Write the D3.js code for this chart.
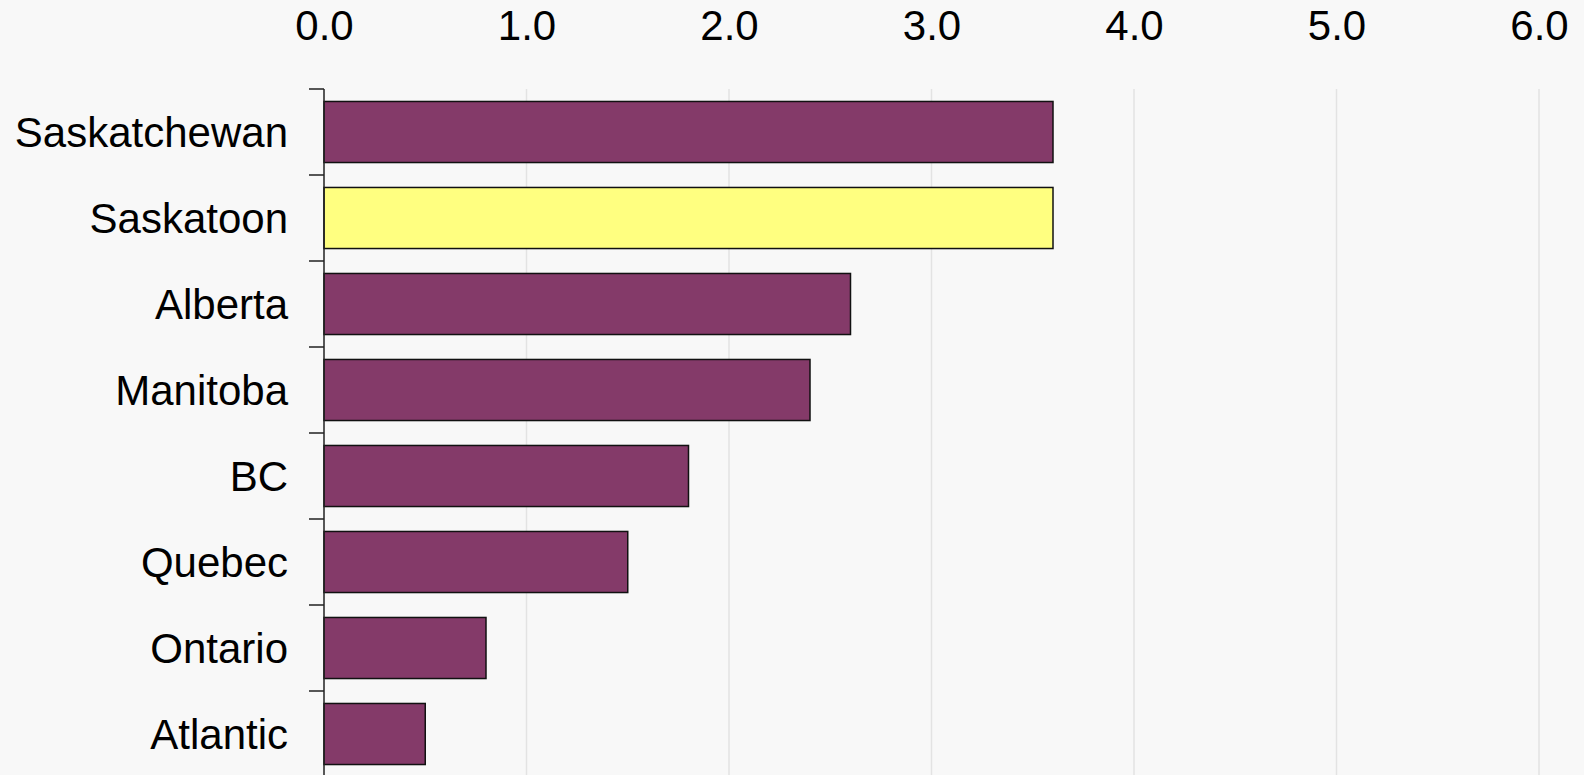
<!DOCTYPE html>
<html>
<head>
<meta charset="utf-8">
<script src="https://cdn.jsdelivr.net/npm/d3@7"></script>
<style>
  html, body { margin: 0; padding: 0; background: #f8f8f8; }
  svg { display: block; font-family: "Liberation Sans", Arial, sans-serif; }
</style>
</head>
<body>
<div id="chart"></div>
<script>
// chart values
var regions = ["Saskatchewan", "Saskatoon", "Alberta", "Manitoba", "BC", "Quebec", "Ontario", "Atlantic"];
var values = [3.6, 3.6, 2.6, 2.4, 1.8, 1.5, 0.8, 0.5];
var highlight = ["Saskatoon"];
var xTicks = [0, 1, 2, 3, 4, 5, 6];

var width = 1584, height = 775;
var margin = {top: 89, left: 324, right: 45};

var svg = d3.select("#chart").append("svg")
    .attr("width", width)
    .attr("height", height);

svg.append("rect")
    .attr("width", width)
    .attr("height", height)
    .attr("fill", "#f8f8f8");

// scales
var x = d3.scaleLinear()
    .domain([0, 6])
    .range([margin.left, width - margin.right]);

var step = 86;
var y = d3.scaleBand()
    .domain(regions)
    .range([margin.top, margin.top + step * regions.length])
    .paddingInner(0.29)
    .paddingOuter(0.145);

// gridlines
svg.append("g")
    .selectAll("line")
    .data(xTicks.slice(1))
    .join("line")
    .attr("x1", d => x(d))
    .attr("x2", d => x(d))
    .attr("y1", margin.top)
    .attr("y2", height)
    .attr("stroke", "#e3e3e3")
    .attr("stroke-width", 1.5);

// top tick labels
var xAxis = d3.axisTop(x)
    .tickValues(xTicks)
    .tickFormat(d3.format(".1f"))
    .tickSize(0)
    .tickPadding(0);

var gx = svg.append("g")
    .attr("transform", "translate(0,40)")
    .call(xAxis);
gx.select(".domain").remove();
gx.selectAll("text")
    .attr("dy", 0)
    .attr("y", 0)
    .attr("font-size", 42)
    .attr("font-family", "Liberation Sans, Arial, sans-serif")
    .attr("fill", "#000");

// bars
svg.append("g")
    .selectAll("rect")
    .data(regions)
    .join("rect")
    .attr("x", x(0))
    .attr("y", d => y(d))
    .attr("width", (d, i) => x(values[i]) - x(0))
    .attr("height", y.bandwidth())
    .attr("fill", d => highlight.indexOf(d) >= 0 ? "#ffff80" : "#843a69")
    .attr("stroke", "#111")
    .attr("stroke-width", 1.5);

// left axis: line, boundary ticks, labels
var ga = svg.append("g");
ga.append("line")
    .attr("x1", x(0))
    .attr("x2", x(0))
    .attr("y1", margin.top)
    .attr("y2", height)
    .attr("stroke", "#222")
    .attr("stroke-width", 1.5);

ga.selectAll(".tick")
    .data(d3.range(regions.length + 1))
    .join("line")
    .attr("class", "tick")
    .attr("x1", x(0) - 15)
    .attr("x2", x(0))
    .attr("y1", i => margin.top + i * y.step())
    .attr("y2", i => margin.top + i * y.step())
    .attr("stroke", "#222")
    .attr("stroke-width", 1.5);

ga.selectAll(".label")
    .data(regions)
    .join("text")
    .attr("class", "label")
    .attr("x", x(0) - 36)
    .attr("y", d => y(d) + y.bandwidth() / 2)
    .attr("dy", "0.35em")
    .attr("text-anchor", "end")
    .attr("font-size", 42)
    .attr("fill", "#000")
    .text(d => d);
</script>
</body>
</html>
